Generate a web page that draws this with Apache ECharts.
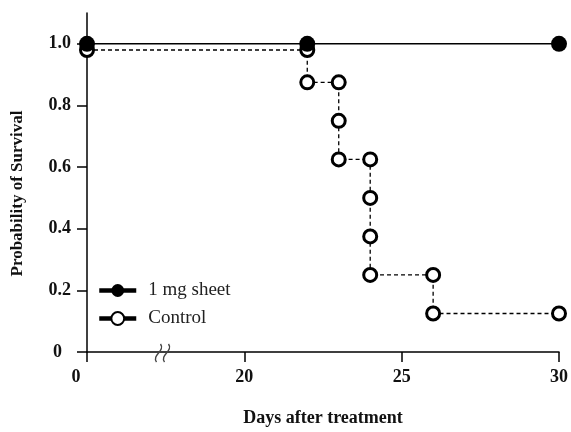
<!DOCTYPE html>
<html><head><meta charset="utf-8">
<script src="https://cdn.jsdelivr.net/npm/echarts@6/dist/echarts.min.js"></script>
<style>html,body{margin:0;padding:0;background:#fff}#c{width:571px;height:432px}</style>
</head><body><div id="c"></div>
<script>
// Data (days after treatment, survival probability)
const treatedDays = [0, 22, 30];
const treatedSurv = [1.0, 1.0, 1.0];
const controlDays = [0, 22, 22, 23, 23, 23, 24, 24, 24, 24, 26, 26, 30];
const controlSurv = [0.98, 0.98, 0.875, 0.875, 0.75, 0.625, 0.625, 0.5, 0.375, 0.25, 0.25, 0.125, 0.125];
const xTickDays = [0, 20, 25, 30];
const yTicks = [0, 0.2, 0.4, 0.6, 0.8, 1.0];
const seriesNames = ['1 mg sheet', 'Control'];

// broken x axis: 0..20 compressed into 5 units, then 1:1
function disp(d){ return d >= 20 ? d - 15 : d / 4; }
function undisp(v){ return v >= 5 ? v + 15 : v * 4; }

const serif = 'Liberation Serif';
const chart = echarts.init(document.getElementById('c'));
chart.setOption({
  animation: false,
  backgroundColor: '#fff',
  grid: {left: 87, right: 9, top: 13, bottom: 74},
  xAxis: {
    type: 'value', min: 0, max: 15, interval: 5,
    name: 'Days after treatment', nameLocation: 'middle', nameGap: 57,
    nameTextStyle: {fontFamily: serif, fontWeight: 'bold', fontSize: 18, color: '#111'},
    axisLine: {lineStyle: {color: '#000', width: 1.5}},
    axisTick: {show: true, length: 10, inside: false, lineStyle: {color: '#000', width: 1.5},
               customValues: xTickDays.map(disp)},
    axisLabel: {fontFamily: serif, fontWeight: 'bold', fontSize: 18, color: '#111', margin: 16,
      customValues: xTickDays.map(disp),
      formatter: v => { const d = Math.round(undisp(v)); return d === 0 ? '{z|0}' : String(d); },
      rich: {z: {fontFamily: serif, fontWeight: 'bold', fontSize: 18, color: '#111', padding: [0, 22, 0, 0]}}},
    splitLine: {show: false}
  },
  yAxis: {
    type: 'value', min: 0, max: 1.1,
    name: 'Probability of Survival', nameLocation: 'middle', nameGap: 61,
    nameTextStyle: {fontFamily: serif, fontWeight: 'bold', fontSize: 17, color: '#111', padding: [0, 22, 0, 0]},
    axisLine: {show: true, lineStyle: {color: '#000', width: 1.5}},
    axisTick: {show: true, length: 10, lineStyle: {color: '#000', width: 1.5}, customValues: yTicks},
    axisLabel: {fontFamily: serif, fontWeight: 'bold', fontSize: 18, color: '#111', margin: 16,
      customValues: yTicks,
      formatter: v => v === 0 ? '{z|0}' : v.toFixed(1),
      rich: {z: {fontFamily: serif, fontWeight: 'bold', fontSize: 18, color: '#111', padding: [0, 9, 0, 0]}}},
    splitLine: {show: false}
  },
  legend: {
    orient: 'vertical', left: 92, top: 276,
    itemWidth: 37, itemHeight: 16, itemGap: 9,
    data: seriesNames.map(n => ({name: n, lineStyle: {width: 4.5, type: 'solid', color: '#000'}})),
    textStyle: {fontFamily: serif, fontSize: 19, color: '#222', padding: [0, 0, 0, 7]}
  },
  series: [
    {
      name: seriesNames[1], type: 'line', z: 2,
      data: controlDays.map((d, i) => [disp(d), controlSurv[i]]),
      symbol: 'circle', symbolSize: 13, showAllSymbol: true,
      itemStyle: {color: '#fff', borderColor: '#000', borderWidth: 3},
      lineStyle: {color: '#000', width: 1.3, type: [4, 3]}
    },
    {
      name: seriesNames[0], type: 'line', z: 3,
      data: treatedDays.map((d, i) => [disp(d), treatedSurv[i]]),
      symbol: 'circle', symbolSize: 16, showAllSymbol: true,
      itemStyle: {color: '#000', borderColor: '#000', borderWidth: 0},
      lineStyle: {color: '#000', width: 1.5, type: 'solid'}
    }
  ]
});
// axis break mark (two wavy strokes over the x axis)
const p = chart.convertToPixel({gridIndex: 0}, [2.4, 0]);
function wave(x, y){
  return {type: 'bezierCurve', z: 10,
    shape: {x1: x + 2, y1: y - 9, x2: x - 2, y2: y + 9, cpx1: x + 7, cpy1: y - 2, cpx2: x - 7, cpy2: y + 2},
    style: {stroke: '#444', lineWidth: 1.4, fill: null}};
}
chart.setOption({graphic: [wave(p[0] - 4, p[1] + 1), wave(p[0] + 4, p[1] + 1)]});
</script></body></html>
